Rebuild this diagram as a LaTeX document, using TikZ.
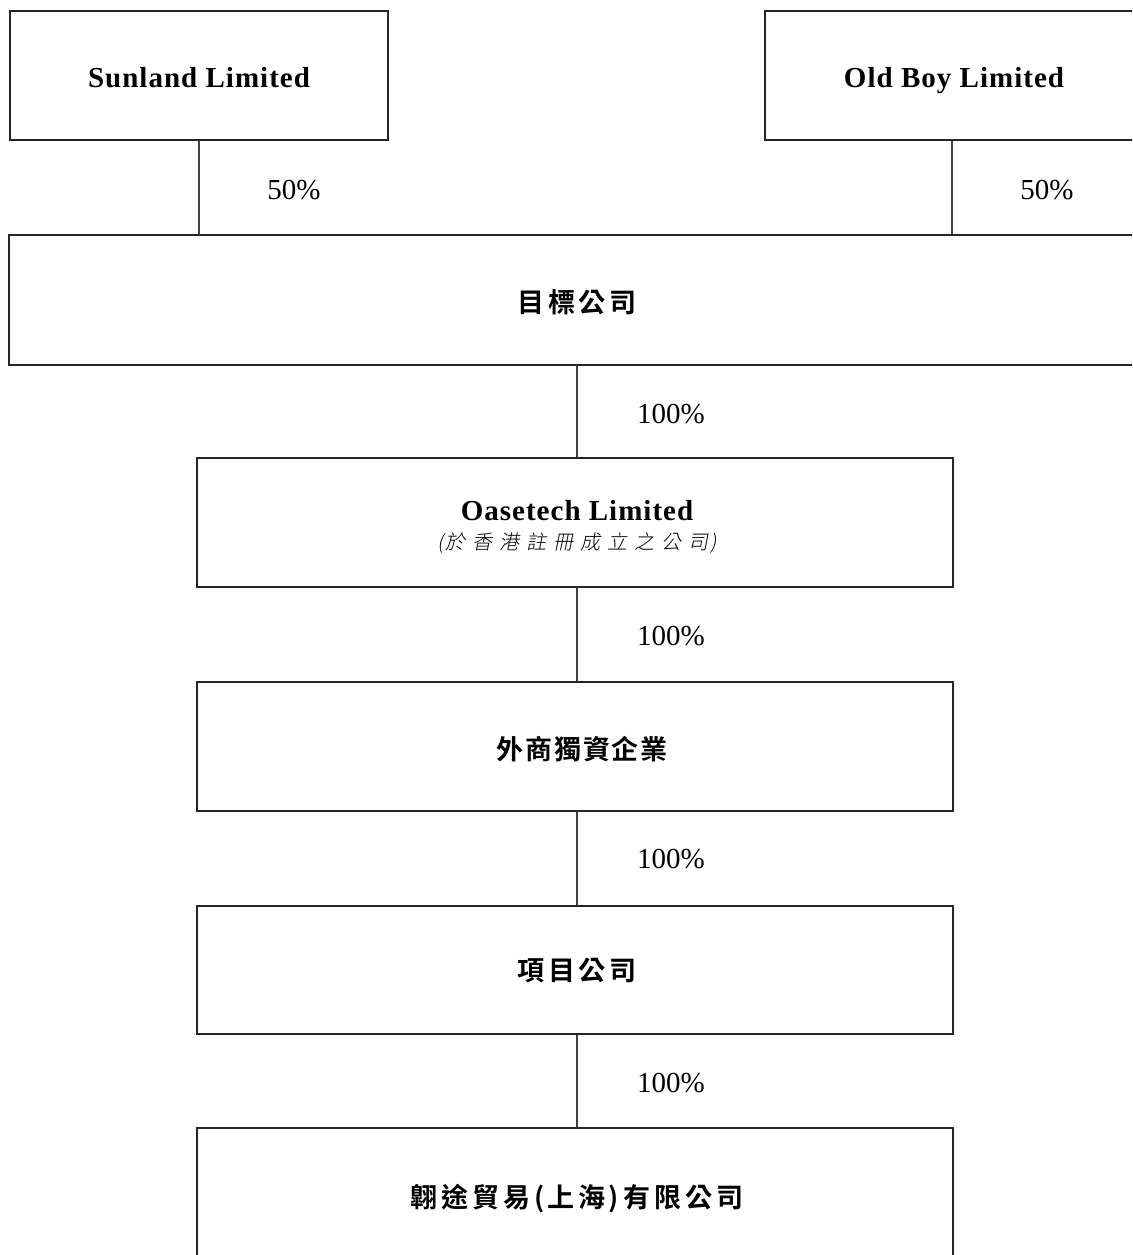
\documentclass[tikz,border=0pt]{standalone}
\usepackage{fontspec}
\setmainfont{Liberation Serif}
\newfontfamily\enb[LetterSpace=3.5]{Liberation Serif Bold}
\newfontfamily\cjkb{Noto Sans CJK TC Bold}
\newfontfamily\cjkit[FakeSlant=0.2]{Noto Sans CJK TC Light}
\begin{document}
\begin{tikzpicture}[x=1pt,y=-1pt,
  box/.style={draw=black!85,line width=1.3pt,rectangle,inner sep=0pt},
  conn/.style={draw=black!75,line width=1.1pt},
  pct/.style={font=\fontsize{29}{33}\selectfont,inner sep=0pt},
  en/.style={font=\fontsize{29}{33}\selectfont\enb,inner sep=0pt,anchor=base},
  zh/.style={font=\fontsize{27}{31}\selectfont\cjkb,inner sep=0pt}]
\useasboundingbox (0,0) rectangle (1132,1255);
\clip (0,0) rectangle (1132,1255);
\fill[white] (0,0) rectangle (1132,1255);
% boxes
\node[box,minimum width=378pt,minimum height=129pt] (sun) at (199,75.5) {};
\node[box,minimum width=374pt,minimum height=129pt] (old) at (952,75.5) {};
\node[box,minimum width=1136pt,minimum height=130pt] (tgt) at (577,300) {};
\node[box,minimum width=756pt,minimum height=129pt] (oas) at (575,522.5) {};
\node[box,minimum width=756pt,minimum height=129pt] (wfoe) at (575,746.5) {};
\node[box,minimum width=756pt,minimum height=128pt] (proj) at (575,970) {};
\node[box,minimum width=756pt,minimum height=144pt] (xt) at (575,1200) {};
% texts
\node[en] (tsun) at (199,87) {Sunland Limited};
\node[en] (told) at (954,87) {Old Boy Limited};
\node[zh] (ttgt) at (577,302) {目\hspace{4pt}標\hspace{4pt}公\hspace{4pt}司};
\node[en] (toas) at (577,520) {Oasetech Limited};
\node[inner sep=0pt,font=\fontsize{20}{24}\selectfont\cjkit] (toas2) at (577,543) {(\hspace{2pt}於\hspace{7pt}香\hspace{7pt}港\hspace{7pt}註\hspace{7pt}冊\hspace{7pt}成\hspace{7pt}立\hspace{7pt}之\hspace{7pt}公\hspace{7pt}司\hspace{2pt})};
\node[zh] (twfoe) at (582,749) {外\hspace{2pt}商\hspace{2pt}獨\hspace{2pt}資\hspace{2pt}企\hspace{2pt}業};
\node[zh] (tproj) at (577,971) {項\hspace{4pt}目\hspace{4pt}公\hspace{4pt}司};
\node[zh] (txt) at (577,1199) {翺\hspace{4pt}途\hspace{4pt}貿\hspace{4pt}易\hspace{4pt}(\hspace{3pt}上\hspace{4pt}海\hspace{3pt})\hspace{4pt}有\hspace{4pt}限\hspace{4pt}公\hspace{4pt}司};
% connectors
\draw[conn] (sun.south) -- (sun.south |- tgt.north);
\draw[conn] (old.south) -- (old.south |- tgt.north);
\draw[conn] (tgt.south) -- (tgt.south |- oas.north);
\draw[conn] (tgt.south |- oas.south) -- (tgt.south |- wfoe.north);
\draw[conn] (tgt.south |- wfoe.south) -- (tgt.south |- proj.north);
\draw[conn] (tgt.south |- proj.south) -- (tgt.south |- xt.north);
% percentages
\node[pct] (p1) at (294,190) {50\%};
\node[pct] (p2) at (1047,190) {50\%};
\node[pct] (p3) at (671,414) {100\%};
\node[pct] (p4) at (671,636) {100\%};
\node[pct] (p5) at (671,859) {100\%};
\node[pct] (p6) at (671,1083) {100\%};
\end{tikzpicture}
\end{document}
